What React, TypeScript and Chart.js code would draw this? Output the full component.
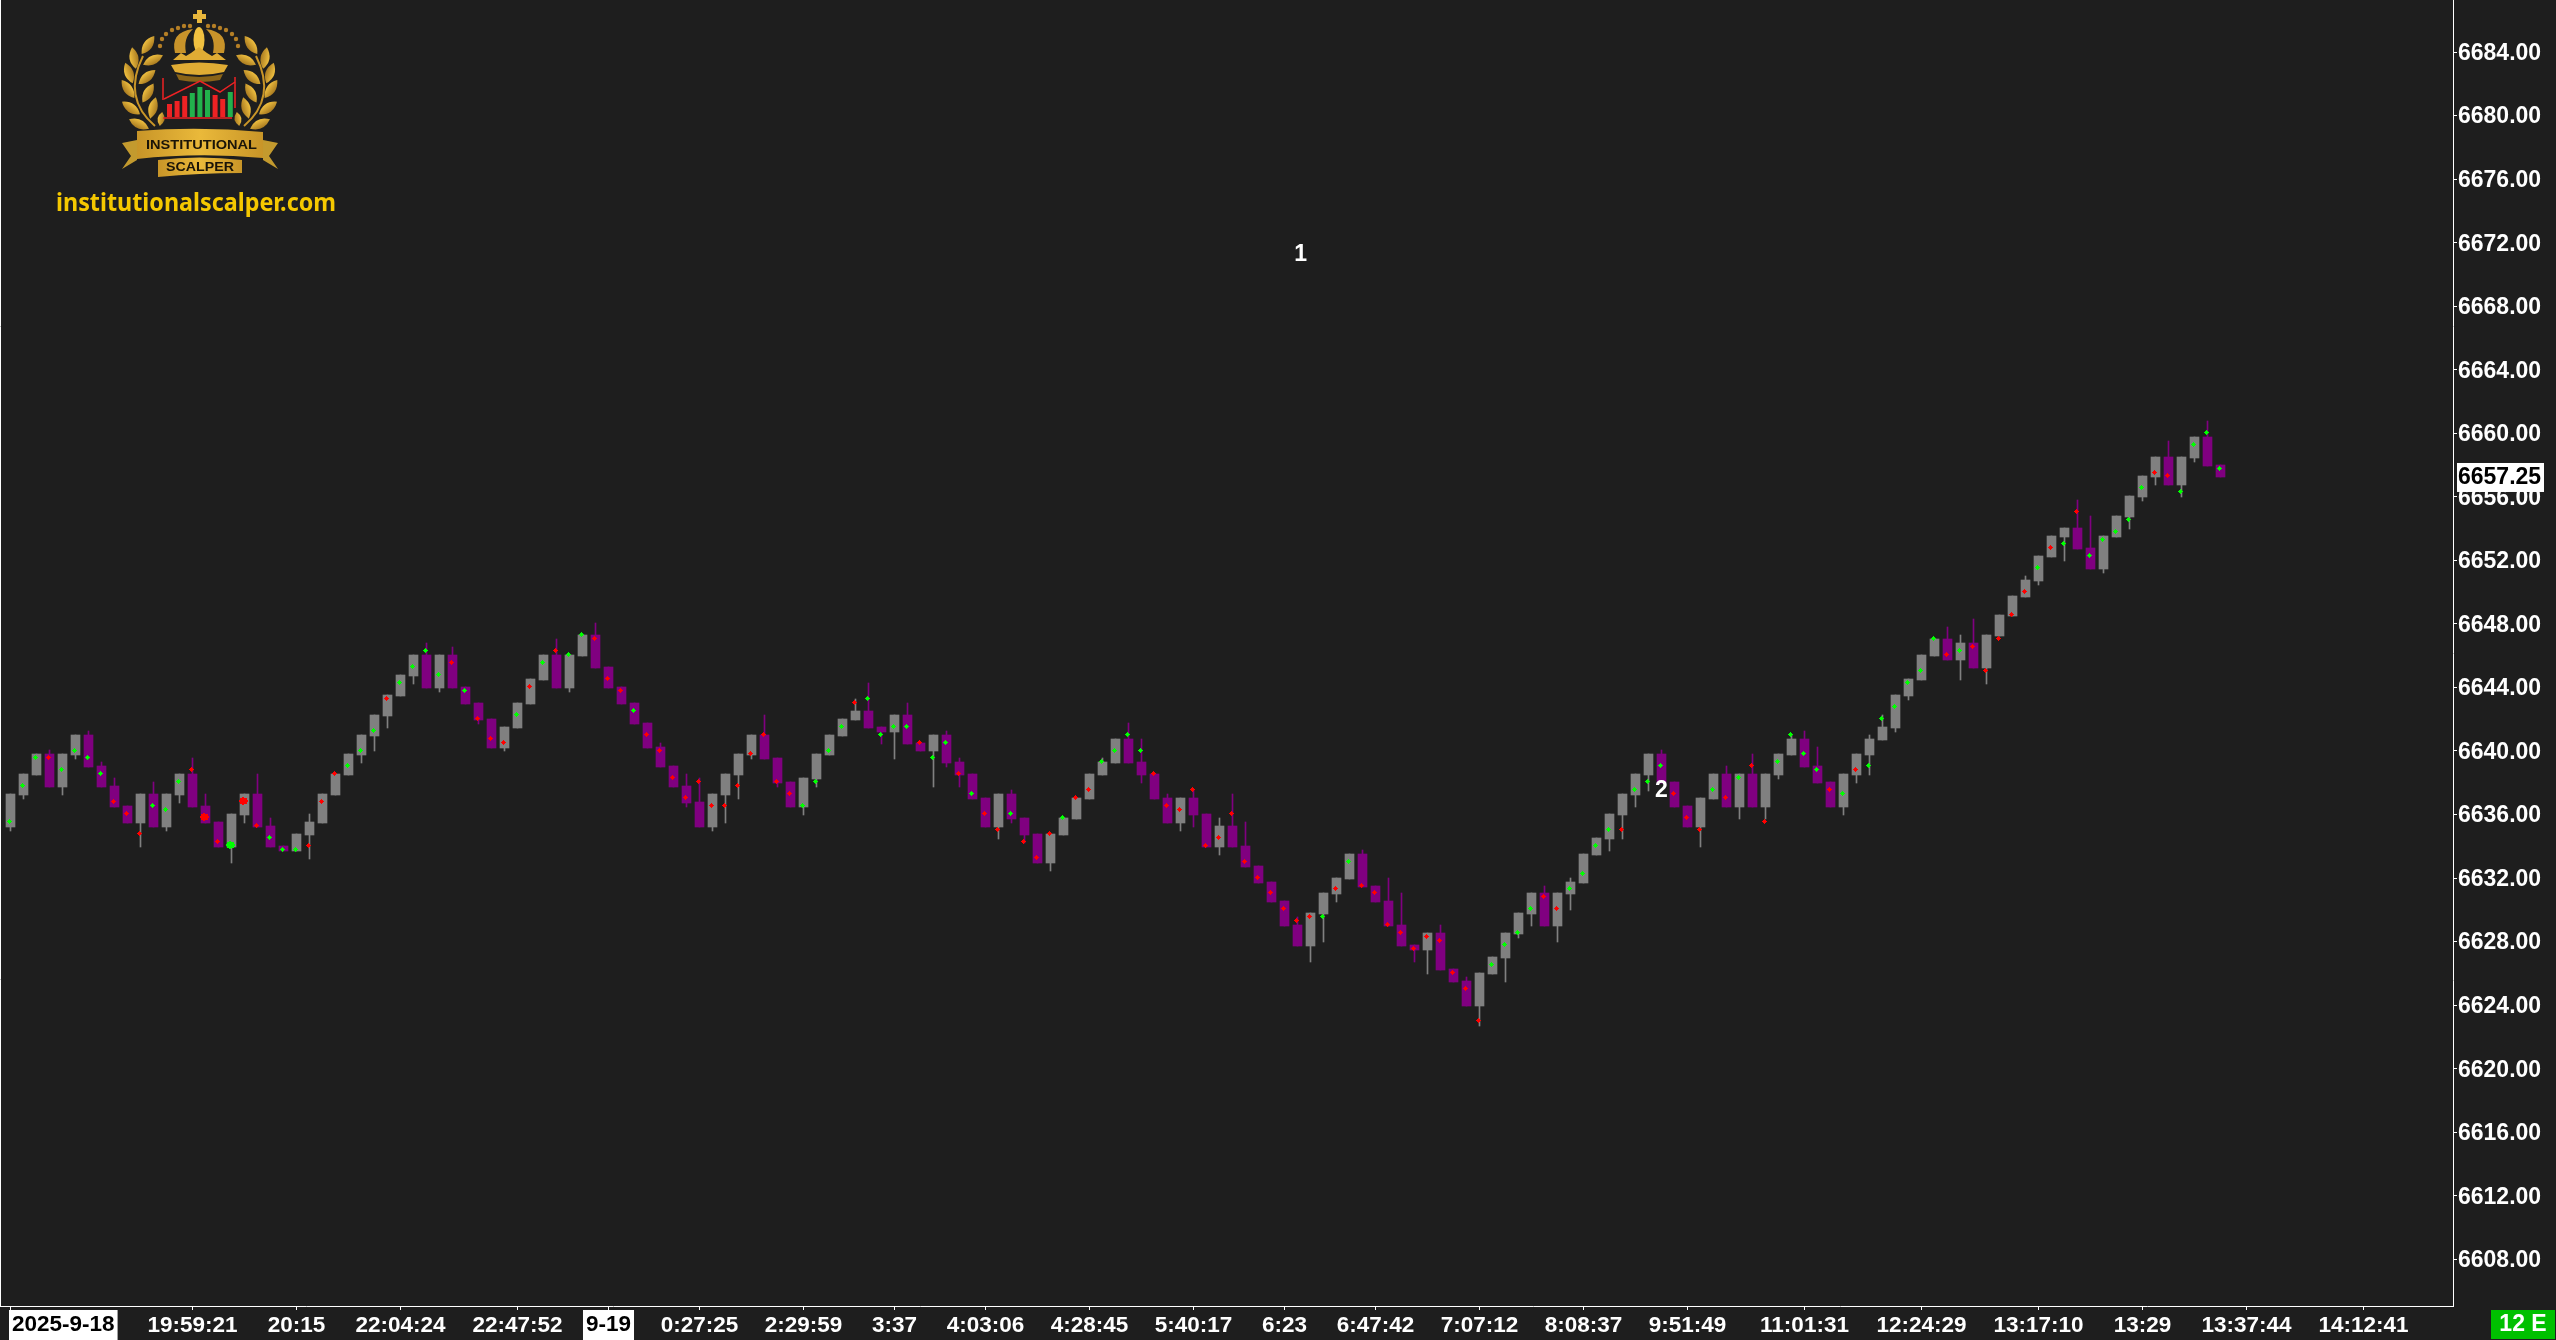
import React, { useEffect, useRef } from "react";
import { Chart, registerables } from "chart.js";

Chart.register(...registerables);

const opens = [
  6635.25,6637.25,6638.5,6639.75,6637.75,6639.75,6641,6639,6637.75,6636.5,
  6635.5,6637.25,6635.25,6637.25,6638.5,6636.5,6635.5,6634,6636,6637.25,
  6635.25,6634,6633.75,6634.75,6635.5,6637.25,6638.5,6639.75,6641,6642.25,
  6643.5,6644.75,6646,6644,6646,6644,6643,6642,6640.25,6641.5,
  6643,6644.5,6646,6644,6646,6647.25,6645.25,6644,6643,6641.75,
  6640.25,6639,6637.75,6636.75,6635.25,6637.25,6638.5,6639.75,6641,6639.5,
  6638,6636.5,6638.25,6639.75,6641,6642,6642.5,6641.5,6641.25,6642.25,
  6640.5,6640,6641,6639.25,6638.5,6637,6635.25,6637.25,6635.75,6634.75,
  6633,6634.75,6635.75,6637,6638.5,6639.25,6640.75,6639.25,6638.5,6637,
  6635.5,6637,6636,6634,6635.25,6634,6632.75,6631.75,6630.5,6629,
  6627.75,6629.75,6631,6632,6633.5,6631.5,6630.5,6629,6627.75,6627.5,
  6628.5,6626.25,6625.5,6624,6626,6627,6628.5,6629.75,6631,6629,
  6631,6631.75,6633.5,6634.5,6636,6637.25,6638.5,6639.75,6638,6636.5,
  6635.25,6637,6638.5,6636.5,6638.5,6636.5,6638.5,6639.75,6640.75,6639,
  6638,6636.5,6638.5,6639.75,6640.75,6641.5,6643.5,6644.5,6646,6647,
  6645.75,6646.75,6645.25,6647.25,6648.5,6649.75,6650.75,6652.25,6653.5,6654,
  6652.75,6651.5,6653.5,6654.75,6656,6657.25,6658.5,6656.75,6658.5,6659.75,
  6658,
];

const closes = [
  6637.25,6638.5,6639.75,6637.75,6639.75,6641,6639,6637.75,6636.5,6635.5,
  6637.25,6635.25,6637.25,6638.5,6636.5,6635.5,6634,6636,6637.25,6635.25,
  6634,6633.75,6634.75,6635.5,6637.25,6638.5,6639.75,6641,6642.25,6643.5,
  6644.75,6646,6644,6646,6644,6643,6642,6640.25,6641.5,6643,
  6644.5,6646,6644,6646,6647.25,6645.25,6644,6643,6641.75,6640.25,
  6639,6637.75,6636.75,6635.25,6637.25,6638.5,6639.75,6641,6639.5,6638,
  6636.5,6638.25,6639.75,6641,6642,6642.5,6641.5,6641.25,6642.25,6640.5,
  6640,6641,6639.25,6638.5,6637,6635.25,6637.25,6635.75,6634.75,6633,
  6634.75,6635.75,6637,6638.5,6639.25,6640.75,6639.25,6638.5,6637,6635.5,
  6637,6636,6634,6635.25,6634,6632.75,6631.75,6630.5,6629,6627.75,
  6629.75,6631,6632,6633.5,6631.5,6630.5,6629,6627.75,6627.5,6628.5,
  6626.25,6625.5,6624,6626,6627,6628.5,6629.75,6631,6629,6631,
  6631.75,6633.5,6634.5,6636,6637.25,6638.5,6639.75,6638,6636.5,6635.25,
  6637,6638.5,6636.5,6638.5,6636.5,6638.5,6639.75,6640.75,6639,6638,
  6636.5,6638.5,6639.75,6640.75,6641.5,6643.5,6644.5,6646,6647,6645.75,
  6646.75,6645.25,6647.25,6648.5,6649.75,6650.75,6652.25,6653.5,6654,6652.75,
  6651.5,6653.5,6654.75,6656,6657.25,6658.5,6656.75,6658.5,6659.75,6658,
  6657.25,
];

const highs = [
  6637.25,6638.5,6639.75,6640,6639.75,6641,6641.25,6639.25,6638.25,6636.5,
  6637.25,6638,6637.25,6638.5,6639.5,6637.25,6635.5,6636,6637.25,6638.5,
  6635.75,6634,6634.75,6636,6637.25,6638.5,6639.75,6641,6642.25,6643.5,
  6644.75,6646,6646.75,6646,6646.5,6644,6643,6642,6641.5,6643,
  6644.5,6646,6647,6646,6647.25,6648,6645.25,6644,6643,6641.75,
  6640.5,6639,6638.5,6638.25,6637.25,6638.5,6639.75,6641,6642.25,6639.5,
  6638,6638.25,6639.75,6641,6642,6643.25,6644.25,6641.5,6642.25,6643,
  6640.5,6641,6641.25,6639.5,6638.5,6637,6637.25,6637.5,6635.75,6634.75,
  6634.75,6635.75,6637,6638.5,6639.5,6640.75,6641.75,6640.75,6638.5,6637.25,
  6637,6637.5,6636,6635.75,6637.25,6635.5,6632.75,6631.75,6630.5,6629.5,
  6629.75,6631,6632,6633.5,6633.75,6631.5,6632,6631,6627.75,6628.5,
  6629,6626.25,6625.75,6626,6627,6628.5,6629.75,6631,6631.5,6631,
  6632,6633.5,6634.5,6636,6637.25,6638.5,6639.75,6640,6638,6636.5,
  6637,6638.5,6639,6638.5,6639.75,6638.5,6639.75,6641,6641.25,6640.25,
  6638,6638.5,6639.75,6641,6642.25,6643.5,6644.5,6646,6647,6647.75,
  6647.25,6648.25,6647.25,6648.5,6649.75,6651,6652.25,6653.5,6654,6655.75,
  6654.75,6653.5,6654.75,6656,6657.25,6658.5,6659.5,6658.5,6659.75,6660.75,
  6658,
];

const lows = [
  6635,6637,6638.5,6637.75,6637.25,6639.5,6639,6637.75,6636.5,6635.5,
  6634,6635.25,6635,6636.75,6636.5,6635.5,6634,6633,6635.5,6635.25,
  6634,6633.75,6633.75,6633.25,6635.5,6637.25,6638.5,6639.25,6640,6641.5,
  6643.5,6644.25,6644,6643.75,6644,6643,6641.75,6640.25,6640,6641.5,
  6643,6644.5,6644,6643.75,6646,6645.25,6644,6643,6641.75,6640.25,
  6639,6637.75,6636.5,6635.25,6635,6635.5,6637,6639.5,6639.5,6637.75,
  6636.5,6636,6637.75,6639.75,6641,6642,6641.5,6640.5,6639.5,6640.5,
  6640,6637.75,6639,6637.75,6637,6635.25,6634.5,6635.5,6634.25,6633,
  6632.5,6634.75,6635.75,6637,6638.5,6639.25,6639.25,6638,6637,6635.5,
  6635,6635.25,6634,6633.5,6634,6632.75,6631.75,6630.5,6629,6627.75,
  6626.75,6628,6630.5,6632,6631.5,6630.5,6629,6627.75,6626.75,6626,
  6626.25,6625.5,6624,6622.75,6626,6625.5,6628.25,6629,6629,6628,
  6630,6631.75,6633.5,6633.75,6634.5,6636.5,6637.5,6638,6636.5,6635.25,
  6634,6637,6636.5,6635.75,6636.5,6635.75,6638.25,6639.75,6639,6638,
  6636.5,6636,6638,6638.5,6640.75,6641.25,6643.25,6644.5,6646,6645.75,
  6644.5,6645.25,6644.25,6647.25,6648.5,6649.75,6650.5,6652.25,6652,6652.75,
  6651.5,6651.25,6653.5,6654,6655.75,6656.75,6656.75,6656,6658.25,6658,
  6657.25,
];

const dotPrices = [
  6635.5,6637.75,6639.5,6639.5,6638.75,6640,6639.5,6638.5,6636.75,6636,
  6634.75,6636.5,6636.25,6638,6638.75,6635.75,6634.25,6634,6636.75,6635.25,
  6634.5,6633.75,6633.75,6634,6636.75,6638.5,6639,6640,6641.25,6643.25,
  6644.25,6645.25,6646.25,6644.75,6645.5,6643.75,6642,6640.75,6640.5,6642.25,
  6644,6645.5,6646.25,6646,6647.25,6647,6644.5,6643.75,6642.5,6641,
  6640,6638.25,6637,6638,6636.5,6636.5,6637.75,6639.75,6641,6638,
  6637.25,6636.5,6638,6640,6641.5,6643,6643.25,6641,6641.5,6641.5,
  6640.5,6639.5,6640.5,6638.5,6637.25,6636,6635,6636,6634.25,6633.25,
  6634.75,6635.75,6637,6637.5,6639.25,6640,6641,6640,6638.5,6636.5,
  6636.25,6637.5,6634,6634.5,6636,6633,6632,6631,6630,6629.25,
  6629.5,6629.5,6631.25,6633,6631.5,6631,6629,6628.5,6627.5,6628.25,
  6628,6626,6625,6623,6626.5,6627.75,6628.5,6630,6630.75,6630,
  6631.25,6632.25,6634,6635,6635,6637.5,6638,6639,6637.25,6635.75,
  6635,6637.5,6637,6638.25,6639,6635.5,6639.25,6641,6639.75,6638.75,
  6637.5,6637.25,6638.75,6639,6642,6642.75,6644.25,6645,6647,6646,
  6646.25,6646.5,6645,6647,6648.5,6650,6651.5,6652.75,6653,6655,
  6652.25,6653.25,6653.75,6654.5,6656.5,6657.5,6657.25,6656.25,6659.25,6660,
  6657.75,
];

const dotSides = (
  "gggrggggrr" + "rgggrrrgrr" + "gggrrrgggr" + "ggggrgrrrg" + "rgrggrrrgr" +
  "rrrrrrrrrr" + "rggggrgggg" + "rggrgrrgrr" + "rgrrggggrr" + "rrrrrrrrrr" +
  "rgrgrrrrrr" + "rrrrggggrr" + "ggggrgggrr" + "rgrgrrgggg" + "rgrggggggr" +
  "grrrrrgrgr" + "gggggrrggg" + "g"
).split("");

const largeDotBars = [15, 17, 18];

const priceTicks = [
  6608,6612,6616,6620,6624,6628,6632,6636,6640,6644,
  6648,6652,6656,6660,6664,6668,6672,6676,6680,6684,
];

const timeTickBars = [
  0,14,22,30,39,46,53,61,68,75,83,91,98,105,113,121,129,138,147,156,164,172,181,
];
const timeTickLabels = [
  "2025-9-18","19:59:21","20:15","22:04:24","22:47:52","9-19","0:27:25","2:29:59",
  "3:37","4:03:06","4:28:45","5:40:17","6:23","6:47:42","7:07:12","8:08:37",
  "9:51:49","11:01:31","12:24:29","13:17:10","13:29","13:37:44","14:12:41",
];
const dateLabels = ["2025-9-18", "9-19"];

const noteBars = [99.25, 127];
const notePrices = [6671.25, 6637.5];
const noteTexts = ["1", "2"];

const lastPrice = 6657.25;
const statusText = "12 E";
const siteText = "institutionalscalper.com";

const BG = "#1e1e1e";
const UP = "#808080";
const DOWN = "#800080";
const FONT = "'Liberation Sans', Arial, sans-serif";

function makeDot(color: string, big: boolean) {
  const rows = big
    ? ["...XX....", ".XXXXXXX.", ".XXXXXXX.", "XXXXXXXXX", "XXXXXXXXX", ".XXXXXXX.", ".XXXXXXX.", "...XX...."]
    : ["..X..", ".XXX.", "XXXXX", ".XXX.", "..X.."];
  const shift = big ? 3 : 2;
  const c = document.createElement("canvas");
  c.width = rows[0].length + shift;
  c.height = rows.length + shift;
  const g = c.getContext("2d")!;
  g.fillStyle = color;
  rows.forEach((r, y) => r.split("").forEach((ch, x) => { if (ch === "X") g.fillRect(x, y, 1, 1); }));
  return c;
}

const overlayPlugin = {
  id: "overlay",
  beforeDatasetsDraw(chart: any) {
    chart.ctx.imageSmoothingEnabled = false;
    chart.data.datasets.forEach((d: any, idx: number) => {
      if (d.type !== "bar") return;
      chart.getDatasetMeta(idx).data.forEach((el: any) => {
        const top = Math.floor(Math.min(el.y, el.base));
        const bottom = Math.floor(Math.max(el.y, el.base)) + 1;
        el.y = top;
        el.base = bottom;
        el.height = bottom - top;
      });
    });
  },
  afterDraw(chart: any) {
    const { ctx, scales } = chart;
    const x = scales.x;
    const y = scales.y;
    ctx.save();
    ctx.textBaseline = "middle";
    ctx.textAlign = "center";

    ctx.strokeStyle = "#ffffff";
    ctx.lineWidth = 1;
    ctx.beginPath();
    ctx.moveTo(0.5, 0);
    ctx.lineTo(0.5, chart.chartArea.bottom);
    ctx.stroke();

    ctx.font = `bold 23px ${FONT}`;
    ctx.fillStyle = "#ffffff";
    noteBars.forEach((b, i) => {
      ctx.fillText(noteTexts[i], x.getPixelForValue(b), y.getPixelForValue(notePrices[i]));
    });

    const py = y.getPixelForValue(lastPrice);
    ctx.fillStyle = "#ffffff";
    ctx.fillRect(2457, py - 14, 87, 29);
    ctx.fillStyle = "#000000";
    ctx.textAlign = "left";
    ctx.font = `bold 23px ${FONT}`;
    ctx.fillText(lastPrice.toFixed(2), 2458, py + 1);

    ctx.textAlign = "center";
    ctx.font = `bold 22.5px ${FONT}`;
    dateLabels.forEach((label) => {
      const bar = timeTickBars[timeTickLabels.indexOf(label)];
      const w = ctx.measureText(label).width + 6;
      const cx = Math.max(x.getPixelForValue(bar), 9 + w / 2);
      ctx.fillStyle = "#ffffff";
      ctx.fillRect(cx - w / 2, 1310, w, 30);
      ctx.fillStyle = "#000000";
      ctx.fillText(label, cx, 1325);
    });

    ctx.fillStyle = "#00c000";
    ctx.fillRect(2491, 1310, 64, 29);
    ctx.fillStyle = "#ffffff";
    ctx.font = `bold 23px ${FONT}`;
    ctx.fillText(statusText, 2523, 1325);
    ctx.restore();
  },
};

function Leaf({ x, y, r, l = 22, w = 9 }: { x: number; y: number; r: number; l?: number; w?: number }) {
  return (
    <path
      transform={`translate(${x} ${y}) rotate(${r})`}
      d={`M${-l / 2} 0 Q0 ${-w} ${l / 2} 0 Q0 ${w} ${-l / 2} 0Z`}
      fill="url(#gold)"
    />
  );
}

const leafSpots: [number, number, number][] = [
  [148, 45, -55], [134, 58, -100], [153, 60, -25], [129, 73, -110], [147, 77, -40],
  [128, 89, 55], [148, 93, -60], [131, 108, 35], [153, 108, -75], [139, 124, 25],
];
const logoBars: [number, string][] = [
  [104, "#ee2224"], [101, "#ee2224"], [96, "#ee2224"], [93, "#22b14c"], [87, "#22b14c"],
  [90, "#22b14c"], [95, "#ee2224"], [99, "#ee2224"], [92, "#22b14c"],
];
const crownDots: [number, number][] = [
  [160, 46], [162, 39], [166, 34], [172, 30], [178, 28], [184, 26], [190, 26],
  [208, 26], [214, 26], [220, 28], [226, 30], [232, 34], [236, 39], [238, 46],
];

function Logo() {
  return (
    <svg width="400" height="240" style={{ position: "absolute", left: 0, top: 0 }}>
      <defs>
        <linearGradient id="gold" x1="0" y1="0" x2="0" y2="1">
          <stop offset="0" stopColor="#f0c040" />
          <stop offset="1" stopColor="#a87a20" />
        </linearGradient>
        <linearGradient id="band" x1="0" y1="0" x2="1" y2="0">
          <stop offset="0" stopColor="#c89528" />
          <stop offset="0.5" stopColor="#eab93a" />
          <stop offset="1" stopColor="#c89528" />
        </linearGradient>
      </defs>
      {[0, 1].map((side) => (
        <g key={side} transform={side ? "translate(399 0) scale(-1 1)" : undefined}>
          <path d="M155 126 Q122 98 143 56" stroke="#c89528" strokeWidth="2" fill="none" />
          {leafSpots.map(([x, y, r], i) => <Leaf key={i} x={x} y={y} r={r} />)}
          <Leaf x={161} y={119} r={-80} l={14} w={7} />
        </g>
      ))}
      <path d="M197 10h5v4h4v5h-4v4h-5v-4h-4v-5h4z" fill="#e8b63c" />
      {crownDots.map(([x, y], i) => <circle key={i} cx={x} cy={y} r="2.2" fill="#b57f26" />)}
      <path d="M175 53 Q170 32 193 29 Q183 38 186 53Z M224 53 Q229 32 206 29 Q216 38 213 53Z" fill="#c8932a" />
      <ellipse cx="199" cy="40" rx="5.5" ry="13" fill="#f0c040" />
      <path d="M173 60 L181 53 L186 56 L191 53 L199 47 L207 53 L212 56 L217 53 L226 60 Z" fill="#e0ac34" />
      <path d="M171 65 Q199 60 228 65 L224 72 Q199 78 175 72Z" fill="#e0ac34" />
      <path d="M176 74 Q199 80 223 74 L220 80 Q199 84 179 80Z" fill="#8a6418" />
      <path d="M163 78 V100 M235 77 V108 M163 118 H232" stroke="#ee2224" strokeWidth="1.5" fill="none" />
      <path d="M164 99 L200 81 L220 92 L235 82" stroke="#ee2224" strokeWidth="1.5" fill="none" />
      {logoBars.map(([top, color], i) => (
        <rect key={i} x={167 + i * 7.6} y={top} width="5" height={117 - top} fill={color} />
      ))}
      <path d="M122 143 L137 140 V160 L122 169 L131 156Z M278 143 L263 140 V160 L278 169 L269 156Z" fill="#c39a2e" />
      <path d="M137 131 Q199 126 263 132 V158 Q199 152 137 159Z" fill="url(#band)" />
      <path d="M158 160 Q199 155 242 160 V173 Q199 173 158 177Z" fill="url(#band)" />
      <text x="146" y="149" textLength="111" lengthAdjust="spacingAndGlyphs" fontFamily={FONT} fontSize="13" fontWeight="700" fill="#1a1408">INSTITUTIONAL</text>
      <text x="166" y="171" textLength="68" lengthAdjust="spacingAndGlyphs" fontFamily={FONT} fontSize="12" fontWeight="700" fill="#1a1408">SCALPER</text>
      <text x="56" y="211" textLength="280" lengthAdjust="spacingAndGlyphs" fontFamily="'Noto Sans', sans-serif" fontSize="25" fontWeight="700" fill="#f5c800">{siteText}</text>
    </svg>
  );
}

export default function App() {
  const ref = useRef<HTMLCanvasElement | null>(null);
  useEffect(() => {
    document.body.style.margin = "0";
    document.body.style.background = BG;
    document.body.style.overflow = "hidden";
    const barX = opens.map((_, i) => i);
    const dotG = makeDot("#00ff00", false);
    const dotR = makeDot("#ff0000", false);
    const bigG = makeDot("#00ff00", true);
    const bigR = makeDot("#ff0000", true);
    const chart = new Chart(ref.current as HTMLCanvasElement, {
      type: "bar",
      data: {
        datasets: [
          {
            type: "line",
            label: "signal",
            order: 1,
            showLine: false,
            data: barX.map((i) => ({ x: i, y: dotPrices[i] })),
            pointStyle: (c: any) => {
              const big = largeDotBars.includes(c.dataIndex);
              return dotSides[c.dataIndex] === "g" ? (big ? bigG : dotG) : big ? bigR : dotR;
            },
          },
          {
            type: "bar",
            label: "body",
            order: 2,
            grouped: false,
            barThickness: 9,
            data: barX.map((i) => ({ x: i, y: [opens[i], closes[i]] })),
            backgroundColor: barX.map((i) => (closes[i] >= opens[i] ? UP : DOWN)),
          },
          {
            type: "bar",
            label: "wick",
            order: 3,
            grouped: false,
            barThickness: 1,
            data: barX.map((i) => ({ x: i, y: [lows[i], highs[i]] })),
            backgroundColor: barX.map((i) => (closes[i] >= opens[i] ? UP : DOWN)),
          },
        ] as any,
      },
      options: {
        responsive: false,
        animation: false,
        devicePixelRatio: 1,
        events: [],
        layout: { padding: 0, autoPadding: false },
        plugins: { legend: { display: false }, tooltip: { enabled: false } },
        scales: {
          x: {
            type: "linear",
            offset: false,
            min: -10.5 / 13,
            max: (2453 - 10.5) / 13,
            afterFit: (s: any) => { s.height = 34; s.paddingLeft = 0; s.paddingRight = 0; },
            afterBuildTicks: (s: any) => { s.ticks = timeTickBars.map((value) => ({ value })); },
            border: { color: "#ffffff", width: 1 },
            grid: { display: true, drawOnChartArea: false, drawTicks: true, tickLength: 4, color: "#ffffff", offset: false },
            ticks: {
              autoSkip: false,
              maxRotation: 0,
              minRotation: 0,
              padding: 2,
              color: "#ffffff",
              font: { family: FONT, size: 22.5, weight: "bold" },
              callback: (v: any) => {
                const label = timeTickLabels[timeTickBars.indexOf(Number(v))];
                return dateLabels.includes(label) ? "" : label;
              },
            },
          },
          y: {
            type: "linear",
            position: "right",
            min: 6660 - (1306 - 433.3) / 15.885,
            max: 6660 + 433.3 / 15.885,
            afterFit: (s: any) => { s.width = 103; s.paddingTop = 0; s.paddingBottom = 0; },
            afterBuildTicks: (s: any) => { s.ticks = priceTicks.map((value) => ({ value })); },
            border: { color: "#ffffff", width: 1 },
            grid: { display: true, drawOnChartArea: false, drawTicks: true, tickLength: 4, color: "#ffffff" },
            ticks: {
              padding: 1,
              labelOffset: 1.5,
              color: "#ffffff",
              font: { family: FONT, size: 23, weight: "bold" },
              callback: (v: any) => Number(v).toFixed(2),
            },
          },
        },
      } as any,
      plugins: [overlayPlugin],
    });
    return () => chart.destroy();
  }, []);
  return (
    <div style={{ position: "fixed", left: 0, top: 0, width: 2556, height: 1340, background: BG }}>
      <canvas ref={ref} width={2556} height={1340} style={{ display: "block" }} />
      <Logo />
    </div>
  );
}
